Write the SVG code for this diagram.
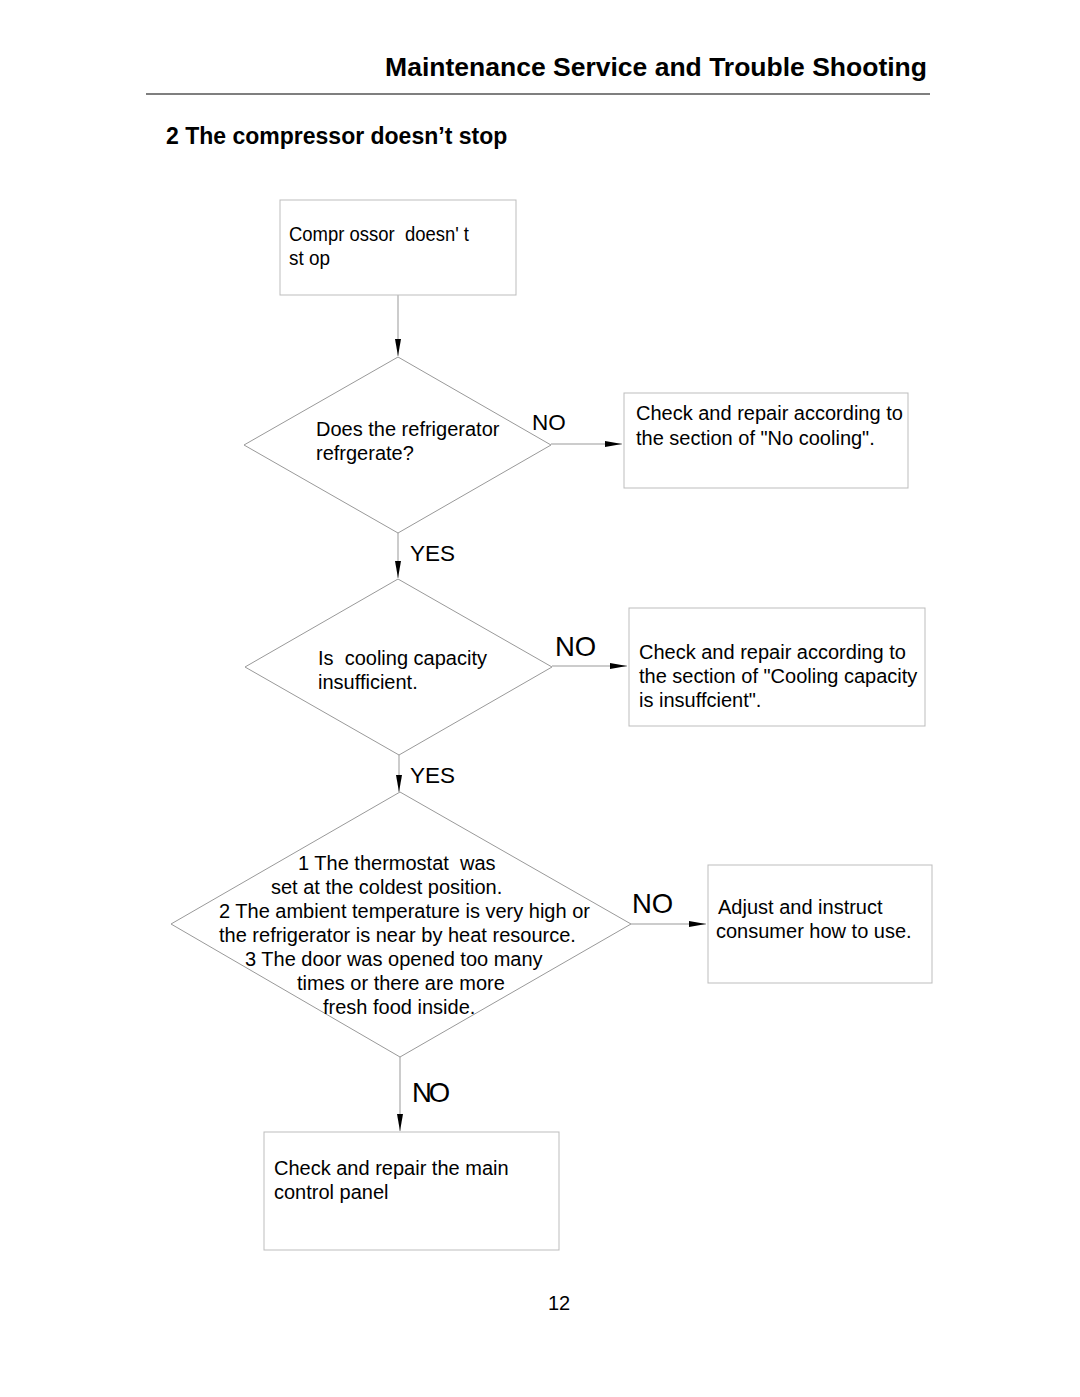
<svg xmlns="http://www.w3.org/2000/svg" width="1080" height="1397" viewBox="0 0 1080 1397">
<style>
text{font-family:"Liberation Sans",Arial,sans-serif;fill:#000}
.t{font-size:20px}
.lbl{font-size:22.5px}
.big{font-size:27.5px}
.box{fill:#fff;stroke:#bdbdbd;stroke-width:1}
.dia{fill:#fff;stroke:#999;stroke-width:1}
.con{stroke:#999;stroke-width:1;fill:none;marker-end:url(#ah)}
</style>
<defs>
<marker id="ah" markerUnits="userSpaceOnUse" markerWidth="18" markerHeight="6" refX="17" refY="3" orient="auto">
<path d="M0,0 L17,3 L0,6 z" fill="#000"/>
</marker>
</defs>
<rect width="1080" height="1397" fill="#fff"/>
<text x="927" y="76" text-anchor="end" font-size="26.5" font-weight="bold">Maintenance Service and Trouble Shooting</text>
<line x1="146" y1="94" x2="930" y2="94" stroke="#000" stroke-width="1.2"/>
<text x="166" y="144" font-size="23" font-weight="bold">2 The compressor doesn’t stop</text>

<g id="connectors">
<line class="con" x1="398" y1="295" x2="398" y2="356"/>
<line class="con" x1="551" y1="444" x2="622" y2="444"/>
<line class="con" x1="398" y1="533" x2="398" y2="578"/>
<line class="con" x1="552" y1="666" x2="627" y2="666"/>
<line class="con" x1="399" y1="755" x2="399" y2="792"/>
<line class="con" x1="631" y1="924" x2="706" y2="924"/>
<line class="con" x1="400" y1="1057" x2="400" y2="1131"/>
<text x="532" y="430" class="lbl">NO</text>
<text x="410" y="561" class="lbl">YES</text>
<text x="555" y="656" class="big">NO</text>
<text x="410" y="783" class="lbl">YES</text>
<text x="632" y="913" class="big">NO</text>
<text x="412" y="1102" class="big" letter-spacing="-3">NO</text>
</g>

<g id="start">
<rect class="box" x="280" y="200" width="236" height="95"/>
<text x="289" y="241" class="t" textLength="180" lengthAdjust="spacingAndGlyphs" xml:space="preserve">Compr ossor  doesn' t</text>
<text x="289" y="265" class="t" textLength="41" lengthAdjust="spacingAndGlyphs">st op</text>
</g>

<g id="q1">
<polygon class="dia" points="398,357 551,445 398,533 244,445"/>
<text x="316" y="436" class="t">Does the refrigerator</text>
<text x="316" y="460" class="t">refrgerate?</text>
</g>

<g id="r1">
<rect class="box" x="624" y="393" width="284" height="95"/>
<text x="636" y="420" class="t">Check and repair according to</text>
<text x="636" y="445" class="t">the section of "No cooling".</text>
</g>

<g id="q2">
<polygon class="dia" points="398,579 552,667 399,755 245,667"/>
<text x="318" y="665" class="t" xml:space="preserve">Is  cooling capacity</text>
<text x="318" y="689" class="t">insufficient.</text>
</g>

<g id="r2">
<rect class="box" x="629" y="608" width="296" height="118"/>
<text x="639" y="659" class="t">Check and repair according to</text>
<text x="639" y="683" class="t">the section of "Cooling capacity</text>
<text x="639" y="707" class="t">is insuffcient".</text>
</g>

<g id="q3">
<polygon class="dia" points="400,792 631,924 400,1057 171,924"/>
<text x="298" y="870" class="t" xml:space="preserve">1 The thermostat  was</text>
<text x="271" y="894" class="t">set at the coldest position.</text>
<text x="219" y="918" class="t">2 The ambient temperature is very high or</text>
<text x="219" y="942" class="t">the refrigerator is near by heat resource.</text>
<text x="245" y="966" class="t">3 The door was opened too many</text>
<text x="297" y="990" class="t">times or there are more</text>
<text x="323" y="1014" class="t">fresh food inside.</text>
</g>

<g id="r3">
<rect class="box" x="708" y="865" width="224" height="118"/>
<text x="718" y="914" class="t">Adjust and instruct</text>
<text x="716" y="938" class="t">consumer how to use.</text>
</g>

<g id="r4">
<rect class="box" x="264" y="1132" width="295" height="118"/>
<text x="274" y="1175" class="t">Check and repair the main</text>
<text x="274" y="1199" class="t">control panel</text>
</g>

<text x="559" y="1310" text-anchor="middle" font-size="20">12</text>
</svg>
